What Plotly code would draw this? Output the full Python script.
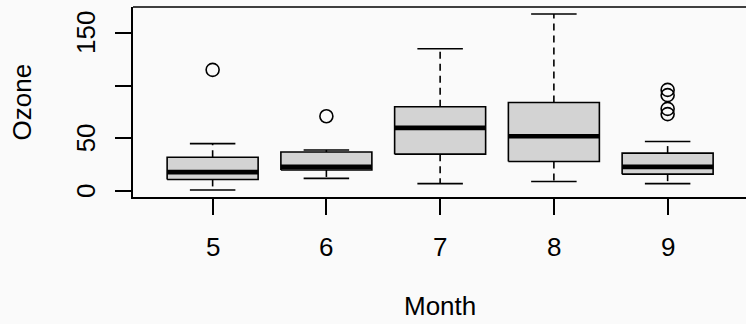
import plotly.graph_objects as go

# Ozone by Month (airquality) — boxplot statistics
months = ["5", "6", "7", "8", "9"]
lower_whisker = [1, 12, 7, 9, 7]
q1 = [11, 20, 35, 28, 16]
median = [18, 23, 60, 52, 23]
q3 = [32, 37, 80, 84, 36]
upper_whisker = [45, 39, 135, 168, 47]
outliers = [[115], [71], [], [], [96, 78, 73, 91]]

yticks = [0, 50, 100, 150]
ytick_labels = ["0", "50", "", "150"]

FONT = "Liberation Sans, Arial, Helvetica, sans-serif"
FS = 26
LW = 1.6
BOXW = 0.4
CAPW = 0.2
BG = "#FAFAFA"

fig = go.Figure()
for i, m in enumerate(months):
    x = i + 1
    # dashed whiskers
    fig.add_trace(go.Scatter(x=[x, x], y=[q3[i], upper_whisker[i]], mode="lines",
                             line=dict(color="black", width=LW, dash="7px,5px"),
                             showlegend=False, hoverinfo="skip"))
    fig.add_trace(go.Scatter(x=[x, x], y=[q1[i], lower_whisker[i]], mode="lines",
                             line=dict(color="black", width=LW, dash="7px,5px"),
                             showlegend=False, hoverinfo="skip"))
    # caps
    for v in (upper_whisker[i], lower_whisker[i]):
        fig.add_trace(go.Scatter(x=[x - CAPW, x + CAPW], y=[v, v], mode="lines",
                                 line=dict(color="black", width=LW),
                                 showlegend=False, hoverinfo="skip"))
    # box
    fig.add_trace(go.Scatter(x=[x - BOXW, x + BOXW, x + BOXW, x - BOXW, x - BOXW],
                             y=[q1[i], q1[i], q3[i], q3[i], q1[i]],
                             mode="lines", fill="toself", fillcolor="#D3D3D3",
                             line=dict(color="black", width=LW),
                             showlegend=False, hoverinfo="skip"))
    # median
    fig.add_trace(go.Scatter(x=[x - BOXW, x + BOXW], y=[median[i], median[i]], mode="lines",
                             line=dict(color="black", width=4.7),
                             showlegend=False, hoverinfo="skip"))
    # outliers
    if outliers[i]:
        fig.add_trace(go.Scatter(x=[x] * len(outliers[i]), y=outliers[i], mode="markers",
                                 marker=dict(symbol="circle-open", size=13,
                                             color="black", line=dict(width=LW, color="black")),
                                 showlegend=False, hoverinfo="skip"))

annotations = []
for v, lab in zip(yticks, ytick_labels):
    if lab:
        annotations.append(dict(text=lab, x=0, xref="paper", xshift=-47, xanchor="center",
                                y=v, yref="y", yanchor="middle", textangle=-90,
                                showarrow=False, font=dict(family=FONT, size=FS, color="black")))
for i, m in enumerate(months):
    annotations.append(dict(text=m, x=i + 1, xref="x", xanchor="center",
                            y=0, yref="paper", yshift=-49.5, yanchor="middle",
                            showarrow=False, font=dict(family=FONT, size=FS, color="black")))
annotations.append(dict(text="Month", x=(1 + len(months)) / 2, xref="x", xanchor="center",
                        y=0, yref="paper", yshift=-126, yanchor="bottom",
                        showarrow=False, font=dict(family=FONT, size=FS, color="black")))
annotations.append(dict(text="Ozone", x=0, xref="paper", xshift=-111.5, xanchor="center",
                        y=0.5, yref="paper", yanchor="middle", textangle=-90,
                        showarrow=False, font=dict(family=FONT, size=FS, color="black")))

fig.update_layout(
    width=746, height=324,
    margin=dict(l=133, r=0, t=7, b=127),
    paper_bgcolor=BG, plot_bgcolor=BG,
    annotations=annotations,
    shapes=[dict(type="line", xref="paper", yref="paper", x0=0, x1=1, y0=1, y1=1,
                 line=dict(color="black", width=LW))],
)
fig.update_xaxes(range=[0.3, 5.689], showgrid=False, zeroline=False, showticklabels=False,
                 tickvals=[i + 1 for i in range(len(months))], ticks="outside", ticklen=16,
                 tickwidth=LW, tickcolor="black", showline=True, linecolor="black", linewidth=LW)
fig.update_yaxes(range=[-5.68, 174.68], showgrid=False, zeroline=False, showticklabels=False,
                 tickvals=yticks, ticks="outside", ticklen=16,
                 tickwidth=LW, tickcolor="black", showline=True, linecolor="black", linewidth=LW)

fig.write_html("out.html", config={"displayModeBar": False},
               post_script="document.body.style.margin='0';document.body.style.padding='0';"
                           "document.body.style.overflow='hidden';"
                           "document.body.style.background='" + BG + "';")
